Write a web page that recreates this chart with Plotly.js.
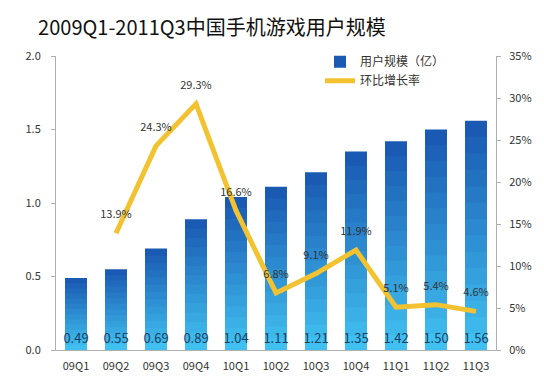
<!DOCTYPE html>
<html>
<head>
<meta charset="utf-8">
<script src="https://cdn.plot.ly/plotly-3.0.1.min.js"></script>
<style>html,body{margin:0;padding:0;background:#fff;}#chart{width:544px;height:382px;}</style>
</head>
<body>
<div id="chart"></div>
<script>
const quarters = ['09Q1','09Q2','09Q3','09Q4','10Q1','10Q2','10Q3','10Q4','11Q1','11Q2','11Q3'];
const users = [0.49,0.55,0.69,0.89,1.04,1.11,1.21,1.35,1.42,1.50,1.56];
const growth = [null,13.9,24.3,29.3,16.6,6.8,9.1,11.9,5.1,5.4,4.6];
const userLabels = ['0.49','0.55','0.69','0.89','1.04','1.11','1.21','1.35','1.42','1.50','1.56'];
const growthLabels = ['','13.9%','24.3%','29.3%','16.6%','6.8%','9.1%','11.9%','5.1%','5.4%','4.6%'];

const font = '"Noto Sans CJK SC", "Open Sans", sans-serif';
const topColor = [26, 90, 178], bottomColor = [64, 192, 240];
const N = 14;
const traces = [];
for (let k = 0; k < N; k++) {
  const t = k / (N - 1);
  const c = topColor.map((v, i) => Math.round(v + (bottomColor[i] - v) * t));
  const frac = 1 - k / N;
  traces.push({
    type: 'bar', x: quarters, y: users.map(v => v * frac),
    marker: {color: `rgb(${c.join(',')})`, line: {width: 0}},
    width: 0.55,
    name: '用户规模（亿）',
    showlegend: k === 0,
    legendgroup: 'u',
    textposition: 'none',
    hoverinfo: 'skip'
  });
}
// transparent full-height bar carrying the value labels
traces.push({
  type: 'bar', x: quarters, y: users,
  marker: {color: 'rgba(0,0,0,0)', line: {width: 0}},
  width: 0.55, showlegend: false,
  text: userLabels, textposition: 'inside', insidetextanchor: 'start', textangle: 0,
  textfont: {family: font, size: 13, color: '#1d3f63'},
  hoverinfo: 'skip'
});
traces.push({
  type: 'scatter', mode: 'lines+markers+text', x: quarters, y: growth, yaxis: 'y2',
  name: '环比增长率',
  line: {color: '#f2c230', width: 5},
  marker: {size: 18, color: 'rgba(0,0,0,0)'},
  text: growthLabels, textposition: 'top center',
  textfont: {family: font, size: 11, color: '#333'},
  connectgaps: false,
  hoverinfo: 'skip'
});

const layout = {
  width: 544, height: 382,
  margin: {l: 56, r: 48, t: 56, b: 32},
  paper_bgcolor: '#fff', plot_bgcolor: '#fff',
  barmode: 'overlay',
  uniformtext: {minsize: 13, mode: 'show'},
  showlegend: true,
  font: {family: font, size: 11, color: '#333'},
  title: {text: '2009Q1-2011Q3中国手机游戏用户规模', x: 0.07, xanchor: 'left', y: 0.927, yanchor: 'middle',
          font: {family: font, size: 20, color: '#111'}},
  legend: {x: 0.6, y: 1.03, xanchor: 'left', yanchor: 'top', bgcolor: 'rgba(0,0,0,0)',
           font: {family: font, size: 12, color: '#333'}, tracegroupgap: 0, itemwidth: 30},
  xaxis: {type: 'category', range: [-0.5, quarters.length - 0.5], showline: true, linecolor: '#b0b0b0',
          ticks: 'outside', ticklen: 6, tickcolor: 'rgba(0,0,0,0)', showgrid: false,
          tickfont: {family: font, size: 11, color: '#333'}, fixedrange: true},
  yaxis: {range: [0, 2.0], dtick: 0.5, tickformat: '.1f', showline: true, linecolor: '#b0b0b0',
          ticks: 'outside', ticklen: 4, tickcolor: '#b0b0b0', ticklabelstandoff: 8, showgrid: false, zeroline: false,
          tickfont: {family: font, size: 11, color: '#333'}},
  yaxis2: {range: [0, 35], dtick: 5, ticksuffix: '%', overlaying: 'y', side: 'right', showline: true,
           linecolor: '#b0b0b0', ticks: 'outside', ticklen: 4, tickcolor: '#b0b0b0', ticklabelstandoff: 6, showgrid: false,
           zeroline: false, tickfont: {family: font, size: 11, color: '#333'}},
  hovermode: false
};
Plotly.newPlot('chart', traces, layout, {displayModeBar: false, staticPlot: true});
</script>
</body>
</html>
